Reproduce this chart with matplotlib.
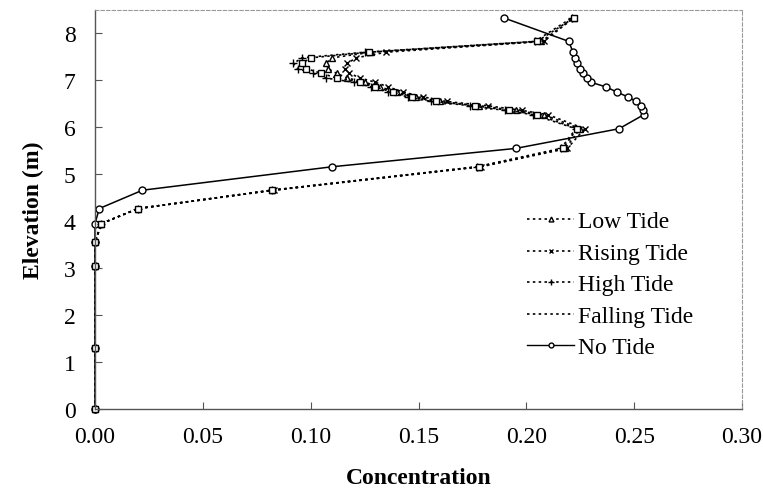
import matplotlib
matplotlib.use("Agg")
import matplotlib.pyplot as plt
from matplotlib.lines import Line2D

plt.rcParams['font.family'] = ['Liberation Serif', 'DejaVu Serif']

# elevation levels (m), shared by all profiles
elev = [0, 1.3, 3.05, 3.55, 3.95, 4.27, 4.66, 5.16, 5.55, 5.97, 6.27, 6.36, 6.46,
        6.55, 6.65, 6.75, 6.86, 6.96, 7.05, 7.15, 7.25, 7.36, 7.48, 7.6, 7.83, 8.33]

low_tide = [0, 0, 0, 0, 0.003, 0.020, 0.082, 0.178, 0.218, 0.225, 0.208, 0.195, 0.178,
            0.160, 0.149, 0.140, 0.132, 0.125, 0.117, 0.112, 0.108, 0.107, 0.110, 0.128, 0.207, 0.222]
rising_tide = [0, 0, 0, 0, 0.003, 0.020, 0.083, 0.179, 0.219, 0.227, 0.210, 0.198, 0.182,
               0.163, 0.152, 0.143, 0.136, 0.130, 0.123, 0.118, 0.116, 0.117, 0.121, 0.135, 0.208, 0.222]
high_tide = [0, 0, 0, 0, 0.003, 0.020, 0.082, 0.177, 0.216, 0.223, 0.203, 0.190, 0.174,
             0.156, 0.145, 0.136, 0.128, 0.120, 0.107, 0.101, 0.094, 0.092, 0.096, 0.125, 0.204, 0.221]
falling_tide = [0, 0, 0, 0, 0.003, 0.020, 0.082, 0.178, 0.217, 0.2235, 0.205, 0.192, 0.176,
                0.158, 0.147, 0.138, 0.130, 0.123, 0.112, 0.105, 0.098, 0.096, 0.100, 0.127, 0.205, 0.222]
no_tide = [0, 0, 0, 0, 0, 0.002, 0.022, 0.110, 0.195, 0.243, 0.2545, 0.254, 0.253,
           0.251, 0.247, 0.242, 0.237, 0.2299, 0.228, 0.2263, 0.2249, 0.2234, 0.2225, 0.2216, 0.2197, 0.1896]

fig = plt.figure(figsize=(7.63, 4.89), dpi=100)
ax = fig.add_axes([0.1245, 0.1616, 0.848, 0.816])

mk = dict(markerfacecolor='white', markeredgecolor='black', markeredgewidth=1.0, color='black')
dots = (0, (1.5, 2))
# no tide drawn first so the tide squares sit on top along the x=0 stretch
ax.plot(no_tide, elev, linestyle='-', lw=1.1, marker='o', ms=5, clip_on=False, **mk)
ax.plot(low_tide, elev, linestyle=dots, lw=1.2, marker='^', ms=5, clip_on=False, **mk)
ax.plot(rising_tide, elev, linestyle=dots, lw=1.2, marker='x', ms=5, clip_on=False, **mk)
ax.plot(high_tide, elev, linestyle=dots, lw=1.2, marker='+', ms=6, clip_on=False, **mk)
ax.plot(falling_tide, elev, linestyle=dots, lw=1.2, marker='s', ms=5, clip_on=False, **mk)

ax.set_xlim(0, 0.30)
ax.set_ylim(0, 8.5)
ax.set_xticks([0, 0.05, 0.10, 0.15, 0.20, 0.25, 0.30])
ax.set_xticklabels(['0.00', '0.05', '0.10', '0.15', '0.20', '0.25', '0.30'])
ax.set_yticks(range(0, 9))
ax.tick_params(direction='in', labelsize=17, length=5, width=0.8, color='#555555')
ax.tick_params(axis='x', pad=12)
ax.tick_params(axis='y', pad=14)

for s in ['left', 'bottom']:
    ax.spines[s].set_color('#555555')
    ax.spines[s].set_linewidth(1.0)
for s in ['top', 'right']:
    ax.spines[s].set_color('#999999')
    ax.spines[s].set_linewidth(0.8)
    ax.spines[s].set_linestyle((0, (3, 2)))

ax.set_xlabel('Concentration', fontsize=17, fontweight='bold', labelpad=15)
ax.set_ylabel('Elevation (m)', fontsize=17, fontweight='bold', labelpad=14)

handles = [
    Line2D([], [], linestyle=dots, lw=1.2, marker='^', ms=3.5, **mk),
    Line2D([], [], linestyle=dots, lw=1.2, marker='x', ms=3.5, **mk),
    Line2D([], [], linestyle=dots, lw=1.2, marker='+', ms=4, **mk),
    Line2D([], [], linestyle=dots, lw=1.2, **mk),
    Line2D([], [], linestyle='-', lw=1.0, marker='o', ms=3.5, **mk),
]
labels = ['Low Tide', 'Rising Tide', 'High Tide', 'Falling Tide', 'No Tide']
ax.legend(handles, labels, loc='upper left', bbox_to_anchor=(0.653, 0.52), frameon=False,
          fontsize=17, handlelength=2.0, handletextpad=0.15, labelspacing=0.42,
          borderaxespad=0)

fig.savefig('out.png', dpi=100)
